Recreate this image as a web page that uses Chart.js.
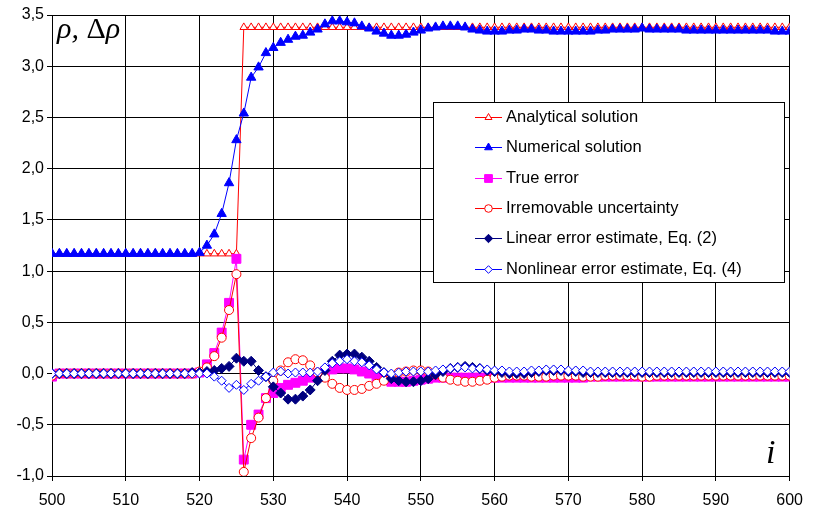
<!DOCTYPE html>
<html>
<head>
<meta charset="utf-8">
<script src="https://cdn.jsdelivr.net/npm/chart.js@4.4.0/dist/chart.umd.min.js"></script>
<style>
  body { margin: 0; background: #fff; }
  #wrap { width: 813px; height: 513px; }
</style>
</head>
<body>
<div id="wrap"><canvas id="chart" width="813" height="513"></canvas></div>
<script>
// grid index i
const iValues = [
  500, 501, 502, 503, 504, 505, 506, 507, 508, 509,
  510, 511, 512, 513, 514, 515, 516, 517, 518, 519,
  520, 521, 522, 523, 524, 525, 526, 527, 528, 529,
  530, 531, 532, 533, 534, 535, 536, 537, 538, 539,
  540, 541, 542, 543, 544, 545, 546, 547, 548, 549,
  550, 551, 552, 553, 554, 555, 556, 557, 558, 559,
  560, 561, 562, 563, 564, 565, 566, 567, 568, 569,
  570, 571, 572, 573, 574, 575, 576, 577, 578, 579,
  580, 581, 582, 583, 584, 585, 586, 587, 588, 589,
  590, 591, 592, 593, 594, 595, 596, 597, 598, 599,
  600
];

const analytical = [
  1.17, 1.17, 1.17, 1.17, 1.17, 1.17, 1.17, 1.17, 1.17, 1.17,
  1.17, 1.17, 1.17, 1.17, 1.17, 1.17, 1.17, 1.17, 1.17, 1.17,
  1.17, 1.17, 1.17, 1.17, 1.17, 1.17, 3.38, 3.38, 3.38, 3.38,
  3.38, 3.38, 3.38, 3.38, 3.38, 3.38, 3.38, 3.38, 3.38, 3.38,
  3.38, 3.38, 3.38, 3.38, 3.38, 3.38, 3.38, 3.38, 3.38, 3.38,
  3.38, 3.38, 3.38, 3.38, 3.38, 3.38, 3.38, 3.38, 3.38, 3.38,
  3.38, 3.38, 3.38, 3.38, 3.38, 3.38, 3.38, 3.38, 3.38, 3.38,
  3.38, 3.38, 3.38, 3.38, 3.38, 3.38, 3.38, 3.38, 3.38, 3.38,
  3.38, 3.38, 3.38, 3.38, 3.38, 3.38, 3.38, 3.38, 3.38, 3.38,
  3.38, 3.38, 3.38, 3.38, 3.38, 3.38, 3.38, 3.38, 3.38, 3.38,
  3.38
];

const numerical = [
  1.17, 1.17, 1.17, 1.17, 1.17, 1.17, 1.17, 1.17, 1.17, 1.17,
  1.17, 1.17, 1.17, 1.17, 1.17, 1.17, 1.17, 1.17, 1.17, 1.17,
  1.18, 1.25, 1.36, 1.56, 1.86, 2.28, 2.54, 2.89, 2.99, 3.13,
  3.18, 3.23, 3.26, 3.29, 3.30, 3.33, 3.36, 3.41, 3.44, 3.44,
  3.43, 3.42, 3.39, 3.37, 3.34, 3.32, 3.30, 3.30, 3.31, 3.33,
  3.35, 3.37, 3.38, 3.39, 3.39, 3.39, 3.38, 3.36, 3.35, 3.34,
  3.34, 3.34, 3.35, 3.35, 3.36, 3.36, 3.35, 3.35, 3.34, 3.34,
  3.34, 3.34, 3.34, 3.34, 3.35, 3.35, 3.36, 3.36, 3.36, 3.36,
  3.37, 3.36, 3.36, 3.36, 3.36, 3.36, 3.35, 3.35, 3.35, 3.35,
  3.35, 3.35, 3.35, 3.35, 3.35, 3.35, 3.35, 3.35, 3.34, 3.34,
  3.34
];

const trueError = [
  -0.03, 0.00, 0.00, 0.00, 0.00, 0.00, 0.00, 0.00, 0.00, 0.00,
  0.00, 0.00, 0.00, 0.00, 0.00, 0.00, 0.00, 0.00, 0.00, 0.00,
  0.01, 0.09, 0.20, 0.40, 0.69, 1.12, -0.84, -0.50, -0.40, -0.24,
  -0.19, -0.14, -0.11, -0.09, -0.07, -0.04, -0.01, 0.02, 0.04, 0.05,
  0.05, 0.04, 0.02, 0.00, -0.03, -0.06, -0.08, -0.08, -0.08, -0.07,
  -0.06, -0.05, -0.04, -0.04, -0.04, -0.04, -0.04, -0.04, -0.04, -0.04,
  -0.04, -0.04, -0.04, -0.04, -0.04, -0.04, -0.04, -0.04, -0.04, -0.04,
  -0.04, -0.04, -0.04, -0.03, -0.03, -0.03, -0.03, -0.03, -0.03, -0.03,
  -0.03, -0.03, -0.03, -0.03, -0.03, -0.03, -0.03, -0.03, -0.03, -0.03,
  -0.03, -0.03, -0.03, -0.03, -0.03, -0.03, -0.03, -0.03, -0.03, -0.03,
  -0.03
];

const irremovable = [
  -0.02, 0.00, 0.00, 0.00, 0.00, 0.00, 0.00, 0.00, 0.00, 0.00,
  0.00, 0.00, 0.00, 0.00, 0.00, 0.00, 0.00, 0.00, 0.00, 0.00,
  0.02, 0.06, 0.17, 0.35, 0.62, 0.97, -0.96, -0.63, -0.43, -0.24,
  -0.07, 0.03, 0.11, 0.14, 0.13, 0.08, 0.01, -0.04, -0.10, -0.14,
  -0.16, -0.16, -0.15, -0.12, -0.10, -0.07, -0.02, 0.01, 0.02, 0.03,
  0.03, 0.02, -0.01, -0.04, -0.06, -0.07, -0.08, -0.08, -0.07, -0.06,
  -0.04, -0.03, -0.02, -0.02, -0.02, -0.03, -0.03, -0.03, -0.02, -0.02,
  -0.02, -0.02, -0.03, -0.03, -0.03, -0.02, -0.02, -0.02, -0.02, -0.02,
  -0.03, -0.03, -0.02, -0.02, -0.02, -0.02, -0.02, -0.02, -0.02, -0.02,
  -0.02, -0.02, -0.02, -0.02, -0.02, -0.02, -0.02, -0.02, -0.02, -0.02,
  -0.02
];

const linearEst = [
  0.00, 0.00, 0.00, 0.00, 0.00, 0.00, 0.00, 0.00, 0.00, 0.00,
  0.00, 0.00, 0.00, 0.00, 0.00, 0.00, 0.00, 0.00, 0.00, 0.01,
  0.01, 0.02, 0.03, 0.05, 0.07, 0.15, 0.12, 0.12, 0.03, -0.03,
  -0.13, -0.19, -0.25, -0.25, -0.22, -0.16, -0.07, 0.03, 0.12, 0.18,
  0.19, 0.19, 0.16, 0.12, 0.06, 0.01, -0.05, -0.07, -0.08, -0.08,
  -0.07, -0.05, -0.01, 0.02, 0.05, 0.06, 0.07, 0.06, 0.05, 0.03,
  0.02, 0.01, 0.00, 0.00, 0.00, 0.01, 0.02, 0.03, 0.03, 0.03,
  0.02, 0.02, 0.01, 0.01, 0.01, 0.01, 0.01, 0.01, 0.01, 0.01,
  0.01, 0.01, 0.01, 0.01, 0.01, 0.01, 0.01, 0.01, 0.01, 0.01,
  0.01, 0.01, 0.01, 0.01, 0.01, 0.01, 0.01, 0.01, 0.01, 0.01,
  0.01
];

const nonlinearEst = [
  0.00, 0.00, 0.00, 0.00, 0.00, 0.00, 0.00, 0.00, 0.00, 0.00,
  0.00, 0.00, 0.00, 0.00, 0.00, 0.00, 0.00, 0.00, 0.00, 0.00,
  0.00, 0.00, -0.03, -0.07, -0.14, -0.11, -0.16, -0.10, -0.07, -0.03,
  0.01, 0.02, 0.00, 0.01, 0.01, 0.01, 0.02, 0.06, 0.10, 0.12,
  0.14, 0.12, 0.11, 0.08, 0.04, 0.01, 0.00, 0.01, 0.02, 0.02,
  0.02, 0.02, 0.03, 0.04, 0.05, 0.06, 0.06, 0.05, 0.05, 0.04,
  0.03, 0.03, 0.02, 0.02, 0.02, 0.03, 0.03, 0.04, 0.04, 0.04,
  0.03, 0.03, 0.03, 0.02, 0.02, 0.02, 0.02, 0.02, 0.02, 0.02,
  0.02, 0.02, 0.02, 0.02, 0.02, 0.02, 0.02, 0.02, 0.02, 0.02,
  0.02, 0.02, 0.02, 0.02, 0.02, 0.02, 0.02, 0.02, 0.02, 0.02,
  0.02
];

const seriesNames = [
  'Analytical solution',
  'Numerical solution',
  'True error',
  'Irremovable uncertainty',
  'Linear error estimate, Eq. (2)',
  'Nonlinear error estimate, Eq. (4)'
];

const toPoints = arr => iValues.map((x, k) => ({ x: x, y: arr[k] }));

function series(k, values, color, style, radius, fill, legendRadius) {
  return {
    label: seriesNames[k],
    data: toPoints(values),
    borderColor: color,
    borderWidth: 1,
    pointStyle: style,
    pointRadius: radius,
    pointBorderColor: color,
    pointBackgroundColor: fill,
    pointBorderWidth: 1,
    order: 5 - k,
    legendRadius: legendRadius
  };
}

const datasets = [
  series(0, analytical, '#ff0000', 'triangle', 4.4, '#ffffff', 4),
  series(1, numerical, '#0000ff', 'triangle', 5.4, '#0000ff', 4.5),
  series(2, trueError, '#ff00ff', 'rect', 6.3, '#ff00ff', 5.5),
  series(3, irremovable, '#ff0000', 'circle', 4.5, '#ffffff', 3.8),
  series(4, linearEst, '#000080', 'rectRot', 5, '#000080', 4.2),
  series(5, nonlinearEst, '#0000ff', 'rectRot', 4.5, '#ffffff', 3.8)
];

// legend box and axis captions drawn on top of the plot
const overlay = {
  id: 'overlay',
  afterDraw(chart) {
    const ctx = chart.ctx;
    ctx.save();
    ctx.fillStyle = '#000';
    ctx.textBaseline = 'alphabetic';
    let x = 57;
    ctx.font = 'italic 30px "Liberation Serif"';
    ctx.fillText('ρ,', x, 38);
    x += ctx.measureText('ρ, ').width;
    ctx.font = '30px "Liberation Serif"';
    ctx.fillText('Δ', x, 38);
    x += ctx.measureText('Δ').width;
    ctx.font = 'italic 30px "Liberation Serif"';
    ctx.fillText('ρ', x, 38);
    ctx.font = 'italic 34px "Liberation Serif"';
    ctx.fillText('i', 766, 463);

    ctx.fillStyle = '#fff';
    ctx.fillRect(433.5, 102.5, 351, 180);
    ctx.strokeStyle = '#000';
    ctx.lineWidth = 1;
    ctx.strokeRect(433.5, 102.5, 351, 180);

    chart.data.datasets.forEach((ds, k) => {
      const y = Math.round(117 + k * 30.3) + 0.5;
      ctx.strokeStyle = ds.borderColor;
      ctx.lineWidth = 1;
      ctx.beginPath();
      ctx.moveTo(475, y);
      ctx.lineTo(502, y);
      ctx.stroke();
      ctx.fillStyle = ds.pointBackgroundColor;
      ctx.strokeStyle = ds.pointBorderColor;
      Chart.helpers.drawPoint(ctx, {
        pointStyle: ds.pointStyle, radius: ds.legendRadius, rotation: 0, borderWidth: 1
      }, 488.5, y);
      ctx.fillStyle = '#000';
      ctx.font = '16.5px "Liberation Sans"';
      ctx.textBaseline = 'middle';
      ctx.fillText(ds.label, 506, y);
    });
    ctx.restore();
  }
};

new Chart(document.getElementById('chart'), {
  type: 'line',
  data: { datasets: datasets },
  options: {
    responsive: false,
    animation: false,
    layout: { padding: { top: 15, right: 15, left: 0, bottom: 0 } },
    plugins: { legend: { display: false }, tooltip: { enabled: false } },
    scales: {
      x: {
        type: 'linear',
        min: 500,
        max: 600,
        afterFit: s => { s.height = 37; },
        grid: { color: '#000', lineWidth: 1, tickLength: 5 },
        border: { color: '#000' },
        ticks: {
          stepSize: 10,
          padding: 10,
          color: '#000',
          font: { family: '"Liberation Sans"', size: 16 },
          callback: v => String(v)
        }
      },
      y: {
        min: -1,
        max: 3.5,
        afterFit: s => { s.width = 52; },
        grid: { color: '#000', lineWidth: 1, tickLength: 5 },
        border: { color: '#000' },
        ticks: {
          stepSize: 0.5,
          padding: 3,
          color: '#000',
          font: { family: '"Liberation Sans"', size: 16 },
          callback: v => v.toFixed(1).replace('.', ',')
        }
      }
    }
  },
  plugins: [overlay]
});
</script>
</body>
</html>
